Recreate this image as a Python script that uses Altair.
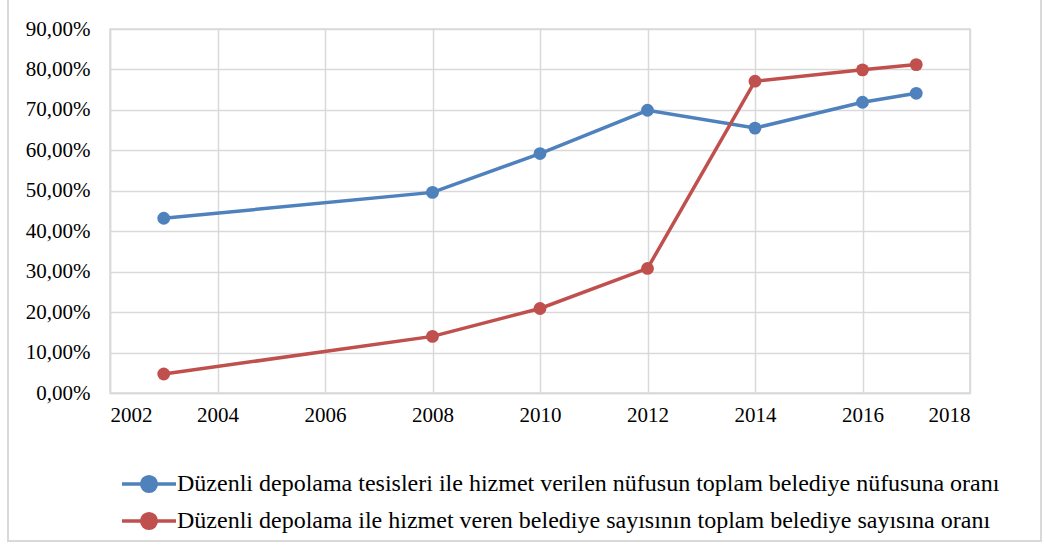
import altair as alt
import pandas as pd

years = [2003, 2008, 2010, 2012, 2014, 2016, 2017]
nufus_orani = [43.2, 49.6, 59.2, 69.9, 65.5, 71.9, 74.1]
belediye_orani = [4.7, 14.0, 20.9, 30.8, 77.1, 79.9, 81.2]
series_names = [
    "Düzenli depolama tesisleri ile hizmet verilen nüfusun toplam belediye nüfusuna oranı",
    "Düzenli depolama ile hizmet veren belediye sayısının toplam belediye sayısına oranı",
]
series_colors = ["#4F81BD", "#C0504D"]
y_ticks = [0, 10, 20, 30, 40, 50, 60, 70, 80, 90]
x_ticks = [2002, 2004, 2006, 2008, 2010, 2012, 2014, 2016, 2018]

rows = []
for name, vals in zip(series_names, [nufus_orani, belediye_orani]):
    for yr, v in zip(years, vals):
        rows.append({"Yıl": yr, "Oran": v, "Seri": name})
df = pd.DataFrame(rows)

FONT = "Liberation Serif"
GRID = "#D9D9D9"

x_enc = alt.X(
    "Yıl:Q",
    scale=alt.Scale(domain=[2002, 2018], nice=False, zero=False),
    axis=alt.Axis(values=x_ticks, format="d", title=None, ticks=False,
                  labelPadding=11, labelFontSize=21, labelFont=FONT,
                  labelColor="#000000", domainColor=GRID, domainWidth=1.5,
                  gridColor=GRID, gridWidth=1.5),
)
y_enc = alt.Y(
    "Oran:Q",
    scale=alt.Scale(domain=[0, 90], nice=False),
    axis=alt.Axis(values=y_ticks, title=None, ticks=False,
                  labelExpr="replace(format(datum.value, '.2f'), '.', ',') + '%'",
                  labelPadding=20, labelFontSize=21, labelFont=FONT,
                  labelColor="#000000", domainColor=GRID, domainWidth=1.5,
                  gridColor=GRID, gridWidth=1.5),
)
color_scale = alt.Scale(domain=series_names, range=series_colors)

# line + dot legend glyph (unit coords scaled by sqrt(size)/2 = 20)
legend_symbol = ("M-1.35,0H1.35 M-0.365,0A0.365,0.365 0 1,0 0.365,0"
                 "A0.365,0.365 0 1,0 -0.365,0Z")

def make_legend():
    return alt.Legend(
        title=None, orient="none", legendX=17, legendY=433, direction="vertical",
        symbolType=legend_symbol, symbolSize=1600, symbolStrokeWidth=3.5,
        labelFont=FONT, labelFontSize=24, labelColor="#000000", labelLimit=2000,
        labelOffset=6, rowPadding=0, padding=0, symbolOpacity=1)

lines = alt.Chart(df).mark_line(strokeWidth=3.5).encode(
    x=x_enc,
    y=y_enc,
    stroke=alt.Stroke("Seri:N", scale=color_scale, legend=make_legend()),
    detail="Seri:N",
)

points = alt.Chart(df).mark_point(filled=True, size=165, opacity=1, strokeWidth=0).encode(
    x=x_enc,
    y=y_enc,
    fill=alt.Fill("Seri:N", scale=color_scale, legend=make_legend()),
    stroke=alt.Stroke("Seri:N", scale=color_scale, legend=make_legend()),
)

frame = alt.Chart(pd.DataFrame({"k": [0]})).mark_rect(
    fill="#FFFFFF", fillOpacity=0, stroke=GRID, strokeWidth=2
).encode(
    x=alt.value(-102), x2=alt.value(931), y=alt.value(-40), y2=alt.value(512)
)

chart = alt.layer(frame, lines, points).properties(
    width=860,
    height=364,
    padding={"left": 110, "top": 29, "right": 75, "bottom": 154},
    autosize=alt.AutoSizeParams(type="none"),
    background="#FFFFFF",
).configure_view(
    stroke=GRID, strokeWidth=1.5
)

chart.save("out.html", embed_options={"renderer": "svg", "actions": False})
